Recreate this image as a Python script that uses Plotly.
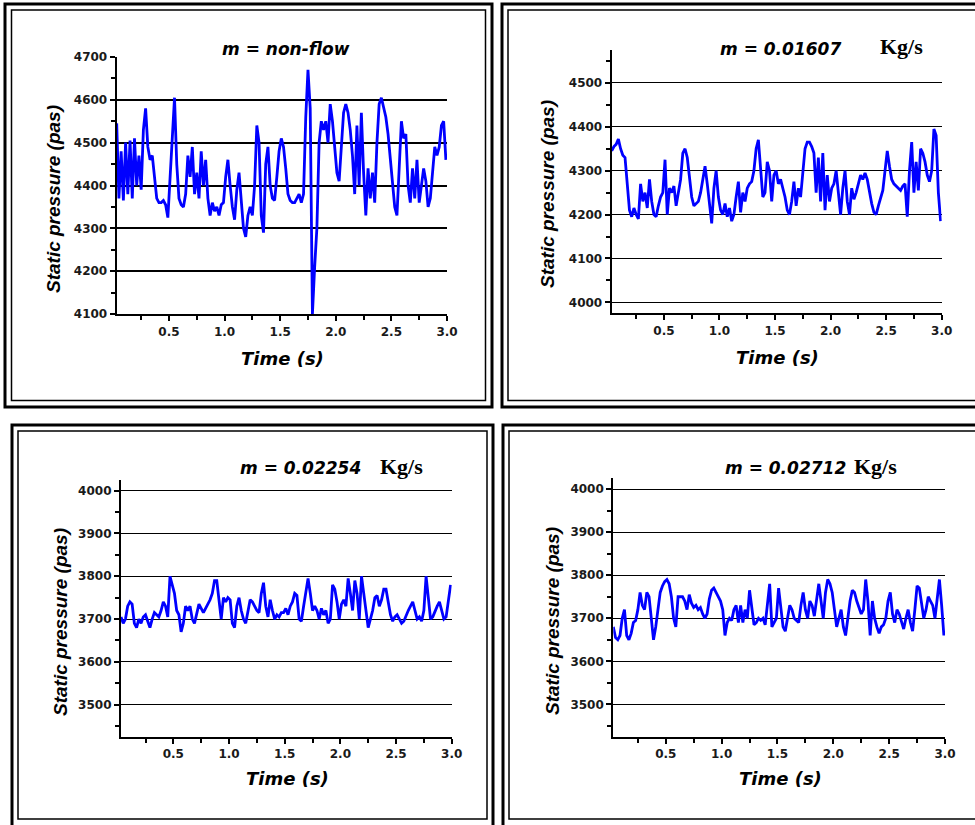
import plotly.graph_objects as go

W, H = 975, 825

# ---------------- data ----------------
time_s = [round(0.03 + 0.02 * i, 2) for i in range(149)]

p_nonflow = [
    4545, 4370, 4480, 4365, 4500, 4380, 4505, 4370, 4510, 4400,
    4470, 4390, 4530, 4580, 4490, 4460, 4470, 4420, 4370, 4360,
    4360, 4365, 4355, 4325, 4420, 4540, 4605, 4450, 4370, 4355,
    4350, 4380, 4470, 4420, 4490, 4380, 4430, 4370, 4480, 4400,
    4460, 4370, 4330, 4360, 4340, 4350, 4330, 4355, 4360, 4420,
    4460, 4400, 4350, 4320, 4390, 4430, 4360, 4300, 4280, 4330,
    4350, 4330, 4400, 4540, 4500, 4330, 4290, 4450, 4490, 4400,
    4370, 4365, 4420, 4480, 4510, 4490, 4440, 4380, 4365, 4360,
    4360, 4370, 4380, 4360, 4380, 4560, 4670, 4580, 4100, 4210,
    4300, 4500, 4550, 4530, 4550, 4500, 4590, 4550, 4490, 4430,
    4410, 4480, 4570, 4590, 4570, 4530, 4470, 4380, 4540, 4400,
    4570, 4430, 4330, 4440, 4370, 4430, 4360, 4500, 4590, 4605,
    4580, 4560, 4520, 4460, 4400, 4350, 4330, 4460, 4550, 4510,
    4520, 4400, 4360, 4440, 4370, 4460, 4360, 4400, 4440, 4410,
    4350, 4370, 4440, 4490, 4470, 4490, 4540, 4550, 4460,
]

p_01607 = [
    4345, 4355, 4360, 4372, 4350, 4335, 4330, 4270, 4210, 4195,
    4215, 4200, 4190, 4270, 4230, 4250, 4215, 4280, 4230, 4200,
    4195, 4220, 4240, 4250, 4325, 4200, 4260, 4250, 4265, 4220,
    4250, 4280, 4340, 4350, 4330, 4290, 4240, 4220, 4225, 4230,
    4250, 4280, 4310, 4270, 4220, 4180, 4260, 4300, 4240, 4210,
    4200, 4225, 4195, 4215, 4185, 4200, 4240, 4275, 4205, 4250,
    4230, 4260, 4270, 4275, 4300, 4350, 4370, 4300, 4240, 4250,
    4320, 4300, 4230, 4290, 4300, 4270, 4280, 4260, 4240, 4210,
    4200, 4230, 4275, 4220, 4260, 4240, 4300, 4350, 4365, 4365,
    4355, 4340, 4250, 4330, 4230, 4340, 4210, 4290, 4230, 4260,
    4270, 4300, 4250, 4200, 4260, 4300, 4230, 4200, 4260, 4235,
    4250, 4270, 4290, 4280, 4295, 4280, 4250, 4225, 4205, 4200,
    4220, 4240, 4255, 4300, 4345, 4310, 4280, 4270, 4265, 4260,
    4255, 4265, 4270, 4195, 4300, 4365, 4250, 4320, 4255, 4350,
    4340, 4320, 4290, 4275, 4300, 4395, 4380, 4250, 4185,
]

p_02254 = [
    3705, 3690, 3700, 3730, 3740, 3735, 3690, 3680, 3700, 3690,
    3705, 3710, 3695, 3680, 3700, 3715, 3710, 3705, 3720, 3740,
    3730, 3705, 3800, 3780, 3760, 3720, 3710, 3670, 3690, 3730,
    3720, 3730, 3700, 3690, 3710, 3735, 3725, 3715, 3725, 3735,
    3745, 3760, 3790, 3790, 3750, 3700, 3750, 3740, 3750, 3745,
    3690, 3680, 3730, 3750, 3720, 3700, 3690, 3720, 3745, 3740,
    3730, 3720, 3715, 3760, 3785, 3730, 3705, 3745, 3720, 3700,
    3710, 3705, 3715, 3715, 3725, 3710, 3730, 3740, 3760, 3755,
    3700, 3695, 3730, 3760, 3795, 3760, 3720, 3730, 3720, 3700,
    3725, 3710, 3720, 3690, 3700, 3780, 3770, 3740, 3700, 3735,
    3745, 3730, 3795, 3760, 3720, 3790, 3760, 3700, 3800, 3760,
    3720, 3680, 3700, 3720, 3750, 3755, 3730, 3745, 3770, 3770,
    3740, 3710, 3695, 3705, 3710, 3700, 3690, 3695, 3710, 3720,
    3730, 3740, 3720, 3700, 3705, 3695, 3720, 3800, 3750, 3700,
    3705, 3720, 3730, 3740, 3720, 3700, 3705, 3750, 3780,
]

p_02712 = [
    3680, 3655, 3650, 3660, 3700, 3720, 3660, 3650, 3665, 3690,
    3695, 3720, 3760, 3730, 3720, 3760, 3750, 3700, 3650, 3680,
    3720, 3760, 3775, 3785, 3790, 3780, 3750, 3700, 3680, 3750,
    3750, 3750, 3740, 3720, 3755, 3735, 3725, 3730, 3720, 3725,
    3710, 3700, 3710, 3745, 3765, 3770, 3760, 3750, 3740, 3720,
    3660, 3690, 3700, 3695, 3720, 3730, 3690, 3730, 3690, 3720,
    3700, 3765, 3720, 3685, 3690, 3700, 3695, 3700, 3685, 3730,
    3780, 3680, 3690, 3700, 3770, 3720, 3680, 3670, 3700, 3730,
    3720, 3700, 3695, 3690, 3730, 3760, 3720, 3700, 3740, 3730,
    3705, 3750, 3780, 3740, 3700, 3760, 3790, 3780, 3760, 3720,
    3680, 3700, 3720, 3680, 3660, 3700, 3740, 3765, 3760, 3740,
    3725, 3710, 3720, 3790, 3740, 3660, 3740, 3700, 3680, 3665,
    3680, 3685, 3700, 3740, 3760, 3710, 3690, 3720, 3710, 3690,
    3675, 3700, 3720, 3690, 3670, 3720, 3775, 3770, 3740, 3700,
    3720, 3750, 3740, 3730, 3700, 3740, 3790, 3730, 3660,
]

titles = ["m = non-flow", "m = 0.01607", "m = 0.02254", "m = 0.02712"]
units = [None, "Kg/s", "Kg/s", "Kg/s"]
series = [p_nonflow, p_01607, p_02254, p_02712]
y_ranges = [[4100, 4700], [3975, 4575], [3425, 4025], [3425, 4025]]
y_tick0 = [4100, 4000, 3500, 3500]
x_range = [0.03, 3.0]
x_tickvals = [0.5, 1.0, 1.5, 2.0, 2.5, 3.0]
x_ticktext = ["0.5", "1.0", "1.5", "2.0", "2.5", "3.0"]

# ---------------- layout geometry (pixels) ----------------
boxes = [(116.7, 447, 57, 314), (611.7, 941.7, 50, 313.3),
         (121, 451.7, 480, 736.7), (613.3, 945, 478.3, 736.7)]
title_pos = [(286, 49), (780, 49), (300, 468), (785, 468)]
unit_pos = [None, (901, 46), (401, 466), (875, 466)]
ytitle_pos = [(53, 199), (548, 194), (60, 622), (552, 621)]
xtitle_pos = [(282, 358), (777, 357), (287, 778), (780, 778)]
grid_w = [2.2, 1.2, 1.2, 1.2]
outer = [(5, 4, 492, 407), (502, 4, 990, 407), (12, 425, 493, 840), (503, 425, 990, 840)]
inner = [(11.5, 10, 485.5, 400.5), (508, 10, 990, 400.5), (18, 431, 487, 819), (509, 431, 990, 819)]


def px(x):
    return x / W


def py(y):
    return 1 - y / H


fig = go.Figure()
annotations = []
shapes = []
tickfont = dict(family="DejaVu Sans", size=12, color="#1a1a1a", weight="bold")

for i in range(4):
    n = i + 1
    xa = "xaxis" if n == 1 else f"xaxis{n}"
    ya = "yaxis" if n == 1 else f"yaxis{n}"
    xr = "x" if n == 1 else f"x{n}"
    yr = "y" if n == 1 else f"y{n}"
    l, r, t, b = boxes[i]
    fig.add_trace(go.Scatter(
        x=time_s, y=series[i], mode="lines", xaxis=xr, yaxis=yr,
        line=dict(color="#0000ff", width=2.8), showlegend=False,
        hoverinfo="skip"))
    fig.layout[xa] = dict(
        domain=[px(l), px(r)], anchor=yr, range=x_range, automargin=False,
        tickmode="array", tickvals=x_tickvals, ticktext=x_ticktext,
        ticks="outside", ticklen=5, tickwidth=1.5, tickcolor="black",
        showline=True, linecolor="black", linewidth=2.2,
        showgrid=False, zeroline=False,
        minor=dict(tickvals=[0.25, 0.75, 1.25, 1.75, 2.25, 2.75],
                   ticks="outside", ticklen=4, tickwidth=1.5, tickcolor="black",
                   showgrid=False),
        tickfont=tickfont,
    )
    fig.layout[ya] = dict(
        domain=[py(b), py(t)], anchor=xr, range=y_ranges[i], automargin=False,
        tick0=y_tick0[i], dtick=100,
        ticks="outside", ticklen=5, tickwidth=1.5, tickcolor="black",
        showline=True, linecolor="black", linewidth=2.2,
        showgrid=True, gridcolor="black", gridwidth=grid_w[i], zeroline=False,
        minor=dict(dtick=50, ticks="outside", ticklen=4, tickwidth=1.5,
                   tickcolor="black", showgrid=False),
        tickfont=tickfont,
    )
    tx, ty = title_pos[i]
    annotations.append(dict(
        x=px(tx), y=py(ty), xref="paper", yref="paper", text=titles[i],
        showarrow=False, xanchor="center", yanchor="middle",
        font=dict(family="DejaVu Sans", size=17, color="black",
                  weight="bold", style="italic")))
    if units[i]:
        ux, uy = unit_pos[i]
        annotations.append(dict(
            x=px(ux), y=py(uy), xref="paper", yref="paper", text=units[i],
            showarrow=False, xanchor="center", yanchor="middle",
            font=dict(family="Liberation Serif", size=22, color="black",
                      weight="bold")))
    ax_, ay_ = ytitle_pos[i]
    annotations.append(dict(
        x=px(ax_), y=py(ay_), xref="paper", yref="paper",
        text="Static pressure (pas)", textangle=-90,
        showarrow=False, xanchor="center", yanchor="middle",
        font=dict(family="Liberation Sans", size=19, color="black",
                  weight="bold", style="italic")))
    bx, by = xtitle_pos[i]
    annotations.append(dict(
        x=px(bx), y=py(by), xref="paper", yref="paper", text="Time (s)",
        showarrow=False, xanchor="center", yanchor="middle",
        font=dict(family="DejaVu Sans", size=18, color="black",
                  weight="bold", style="italic")))
    ox0, oy0, ox1, oy1 = outer[i]
    shapes.append(dict(type="rect", xref="paper", yref="paper",
                       x0=px(ox0), y0=py(oy0), x1=px(ox1), y1=py(oy1),
                       line=dict(color="black", width=3)))
    ix0, iy0, ix1, iy1 = inner[i]
    shapes.append(dict(type="rect", xref="paper", yref="paper",
                       x0=px(ix0), y0=py(iy0), x1=px(ix1), y1=py(iy1),
                       line=dict(color="black", width=1.5)))

fig.update_layout(
    width=W, height=H,
    margin=dict(l=0, r=0, t=0, b=0, pad=0, autoexpand=False),
    paper_bgcolor="white", plot_bgcolor="white",
    annotations=annotations, shapes=shapes, showlegend=False,
)

fig.write_html("out.html")
